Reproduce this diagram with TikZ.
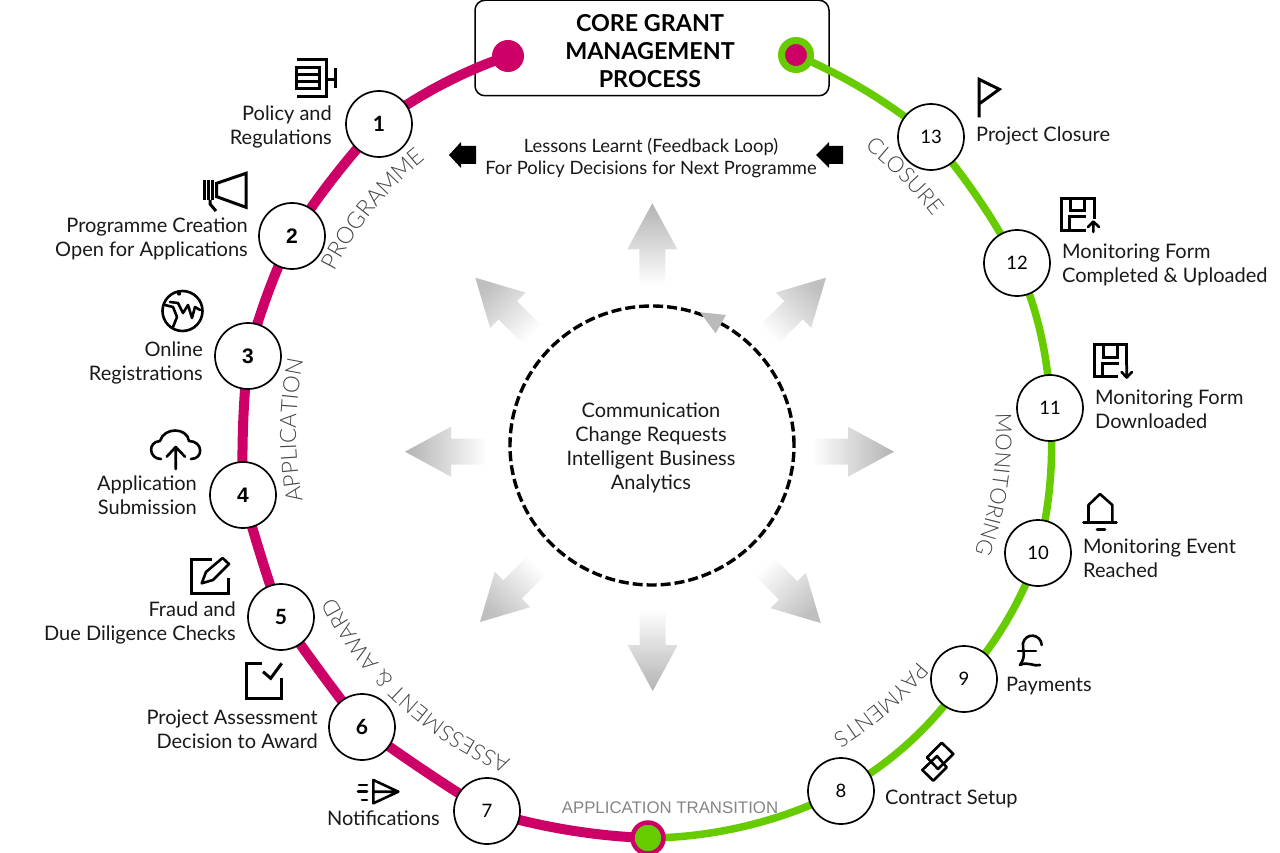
\documentclass[tikz,border=0pt]{standalone}
\usepackage{fontspec}
\setmainfont{Lato}
\newfontfamily\latolight{Lato Light}
\newfontfamily\arialike{Liberation Sans}
\usetikzlibrary{shapes.geometric,decorations.text,calc}
\definecolor{mag}{HTML}{CC0066}
\definecolor{grn}{HTML}{66CC00}
\definecolor{arclab}{HTML}{444444}
\pgfdeclarelayer{boxlayer}
\pgfdeclarelayer{linelayer}
\pgfsetlayers{boxlayer,linelayer,main}
\tikzset{
  x=1pt,y=1pt,
  numnode/.style={circle,draw=black,fill=white,line width=1.7pt,minimum size=66pt,inner sep=0pt},
  numa/.style={numnode,font=\fontsize{21}{21}\selectfont\bfseries},
  numb/.style={numnode,font=\fontsize{21}{21}\selectfont\arialike\bfseries},
  numc/.style={numnode,font=\fontsize{18.5}{18.5}\selectfont},
  lab/.style={font=\fontsize{20}{24}\selectfont,inner sep=0pt,text=black!90},
  labr/.style={lab,align=right,anchor=east},
  labl/.style={lab,align=left,anchor=west},
  magline/.style={mag,line width=10pt},
  grnline/.style={grn,line width=7.5pt},
  icon/.style={black,line width=3pt,line cap=butt,line join=miter},
  icont/.style={black,line width=2.6pt,line join=round,line cap=round},
}
\newcommand\arclabel[4]{\path[decorate,decoration={text along path,text align=center,
   text color=arclab,text={|\latolight\fontsize{#3}{#3}\selectfont|#4}}]
   (c) ++(#1+32:#2) arc[start angle=#1+32,end angle=#1-32,radius=#2];}
\newcommand\glowarrow[4]{\begin{scope}[shift={(#1,#2)},rotate=#3]
  \shade[bottom color=white,top color=black!#4,shading angle=#3-90]
   (0,0)--(-46,25)--(-46,13)--(-82,13)--(-82,-13)--(-46,-13)--(-46,-25)--cycle;
  \end{scope}}
\begin{document}
\begin{tikzpicture}
\useasboundingbox (0,0) rectangle (1280,-853);
\coordinate (c) at (648,-433);
% title box
\begin{pgfonlayer}{boxlayer}
\node[draw=black,line width=1.5pt,rounded corners=10pt,minimum width=354pt,minimum height=95.5pt,inner sep=0pt] (title) at (652,-48) {};
\end{pgfonlayer}
\node[align=center,font=\fontsize{23.3}{28}\selectfont\bfseries,inner sep=0pt] (titletext) at (650,-51) {CORE GRANT\\MANAGEMENT\\PROCESS};
% nodes on ring
\node[circle,fill=mag,minimum size=32pt,inner sep=0pt] (dotL) at (508,-56) {};
\node[circle,fill=mag,draw=grn,line width=7pt,minimum size=29pt,inner sep=0pt] (dotR) at (796,-55) {};
\node[circle,fill=grn,draw=mag,line width=4.5pt,minimum size=31pt,inner sep=0pt] (dotB) at (648,-838) {};
\node[numa] (n1) at (379,-124) {1};
\node[numb] (n2) at (292,-236) {2};
\node[numb] (n3) at (248,-356) {3};
\node[numb] (n4) at (243,-495) {4};
\node[numa] (n5) at (281,-617) {5};
\node[numa] (n6) at (362,-727) {6};
\node[numc] (n7) at (487,-811) {7};
\node[numc] (n8) at (841,-791) {8};
\node[numc] (n9) at (964,-679) {9};
\node[numc] (n10) at (1038,-553) {10};
\node[numc] (n11) at (1050,-408) {11};
\node[numc] (n12) at (1017,-263) {12};
\node[numc] (n13) at (931,-137) {13};
% ring segments
\begin{pgfonlayer}{linelayer}
\begin{scope}[looseness=.85]
\draw[magline] (dotL.center) to[bend right=9] (n1.center);
\draw[magline] (n1.center) to[bend right=4.9] (n2.center);
\draw[magline] (n2.center) to[bend right=5.4] (n3.center);
\draw[magline] (n3.center) to[bend right=4] (n4.center);
\draw[magline] (n4.center) to[bend right=2] (n5.center);
\draw[magline] (n5.center) to[bend right=1.5] (n6.center);
\draw[magline] (n6.center) to[bend right=2.3] (n7.center);
\draw[magline] (n7.center) to[bend right=7.5] (dotB.center);
\draw[grnline] (dotB.center) to[bend right=13.4] (n8.center);
\draw[grnline] (n8.center) to[bend right=14] (n9.center);
\draw[grnline] (n9.center) to[bend right=11.7] (n10.center);
\draw[grnline] (n10.center) to[bend right=9.8] (n11.center);
\draw[grnline] (n11.center) to[bend right=11.5] (n12.center);
\draw[grnline] (n12.center) to[bend right=6.5] (n13.center);
\draw[grnline] (n13.center) to[bend right=8.3] (dotR.center);
\end{scope}
\end{pgfonlayer}
% labels
\node[labr] (t1) at (332,-126.5) {Policy and\\Regulations};
\node[labr] (t2) at (248,-238.5) {Programme Creation\\Open for Applications};
\node[labr] (t3) at (203,-362.5) {Online\hspace{5pt}\\Registrations};
\node[labr] (t4) at (197,-495.5) {Application\\Submission};
\node[labr] (t5) at (236,-622.5) {Fraud and\\Due Diligence Checks};
\node[labr] (t6) at (318,-729.5) {Project Assessment\\Decision to Award};
\node[labr] (t7) at (440,-818.5) {Notifications};
\node[labl] (t8) at (885,-798.5) {Contract Setup};
\node[labl] (t9) at (1006,-686.5) {Payments};
\node[labl] (t10) at (1083,-558.5) {Monitoring Event\\Reached};
\node[labl] (t11) at (1095,-409.5) {Monitoring Form\\Downloaded};
\node[labl] (t12) at (1062,-264.5) {Monitoring Form\\Completed \& Uploaded};
\node[labl] (t13) at (976,-135.5) {Project Closure};
\node[lab,font=\fontsize{18.4}{22}\selectfont,align=center] (lessons) at (651,-158) {Lessons Learnt (Feedback Loop)\\For Policy Decisions for Next Programme};
\node[font=\fontsize{16.8}{20}\selectfont\arialike,text=black!48,inner sep=0pt] (trans) at (670,-808) {APPLICATION TRANSITION};
% hub
\node[ellipse,draw=black,line width=3.4pt,dash pattern=on 10pt off 4pt,minimum width=284pt,minimum height=279pt,inner sep=0pt] (hub) at (652,-445.5) {};
\node[align=center,font=\fontsize{20}{24}\selectfont,text=black!90,inner sep=0pt] (hubtext) at (651,-447.5) {Communication\\Change Requests\\Intelligent Business\\Analytics};
\fill[black!27] (700,-312.3)--(726,-315)--(715.7,-333.3)--cycle;
% gradient arrows
\glowarrow{652.3}{-203.3}{90}{30}
\glowarrow{652.7}{-691}{-90}{30}
\glowarrow{405}{-451.7}{180}{30}
\glowarrow{894}{-451.7}{0}{30}
\glowarrow{475.3}{-277.7}{135}{25}
\glowarrow{826}{-277.7}{45}{25}
\glowarrow{480}{-622}{225}{25}
\glowarrow{820.7}{-623}{-45}{25}
% small black arrows
\fill[black] (449,-155)--(461,-142)--(461,-146)--(476,-146)--(476,-164)--(461,-164)--(461,-168)--cycle;
\fill[black] (816,-155)--(829,-142)--(829,-146)--(843,-146)--(843,-164)--(829,-164)--(829,-168)--cycle;
% arc labels
\arclabel{140.85}{353}{23}{PROGRAMME}
\arclabel{179.6}{352}{22.5}{APPLICATION}
\arclabel{227.4}{354}{22}{ASSESSMENT {\&} AWARD}
\arclabel{-49.4}{354}{22}{PAYMENTS}
\arclabel{-8.5}{348}{22}{MONITORING}
\arclabel{45}{358}{22}{CLOSURE}
% icon 1
\draw[icon] (296.7,-59.5)--(326.7,-59.5)--(326.7,-97)--(296.7,-97);
\draw[icon] (296.7,-68)rectangle(319,-88.5);
\draw[icon] (296.7,-75)--(319,-75) (296.7,-81.5)--(319,-81.5);
\draw[icon] (326.7,-80)--(335,-80) (335,-68)--(335,-88.5);
% icon 2
\draw[icon] (216.7,-183.3)--(246,-173.3)--(246,-207.3)--(216.7,-196.7)--cycle;
\draw[icon] (204,-180)--(204,-200) (208,-180)--(208,-200) (212,-180)--(212,-200);
\draw[icon] (210,-200)--(210,-204)--(216,-211);
% icon 3
\draw[icont] (182.5,-311) circle (20);
\draw[icont] (165,-305)--(173,-307)--(177,-317)--(173,-327);
\draw[icont] (170,-302)--(178,-303)--(183,-313)--(188,-305)--(192,-318)--(195,-307)--(200,-310);
\fill[black] (179,-293.5) circle (2.2);
% icon 4
\draw[icont] (161,-459) .. controls (149,-459) and (147,-442) .. (160,-441) .. controls (164,-427) and (187,-427) .. (189,-441) .. controls (203,-441) and (204,-459) .. (191,-459);
\draw[icont] (175.7,-469)--(175.7,-447) (166.7,-456.7)--(175.7,-447)--(185,-456.7);
% icon 5
\draw[icon] (211.7,-559.3)--(191.7,-559.3)--(191.7,-593.3)--(228.3,-593.3)--(228.3,-578);
\draw[icont] (201.7,-583.3)--(206,-572)--(222.5,-558)--(229,-564)--(213,-580)--cycle;
% icon 6
\draw[icon] (261.7,-663.3)--(246,-663.3)--(246,-698.3)--(281.7,-698.3)--(281.7,-678);
\draw[icon] (263,-671.7)--(270.7,-678.3)--(281.7,-663.3);
% icon 7
\draw[icont] (373.3,-780)--(398.3,-791.7)--(373.3,-803.3)--cycle (373.3,-791.7)--(398.3,-791.7);
\draw[icont] (359,-785)--(367,-785) (358,-791.7)--(367,-791.7) (362,-800)--(367,-800);
% icon 8
\draw[icont] (941.7,-742.7)--(953.3,-754)--(938,-769)--(927,-757.5)--cycle;
\draw[icont] (922.3,-770)--(937,-756)--(946.7,-767.3)--(933.3,-780.7)--cycle;
% icon 9
\draw[icont] (1041.7,-645) .. controls (1041,-634) and (1026,-632) .. (1023,-643) .. controls (1022,-650) and (1027,-655) .. (1020,-665) .. controls (1028,-661) and (1034,-667) .. (1040,-665);
\draw[icont] (1018,-651)--(1036,-651);
% icon 10
\draw[icont] (1088.5,-522)--(1088.5,-505)--(1100,-494)--(1112.3,-505)--(1112.3,-522);
\draw[icont] (1083.5,-522.7)--(1116.5,-522.7) (1097,-529.5)--(1105,-529.5);
% icon 11
\draw[icon] (1126.7,-365)--(1126.7,-344)--(1094,-344)--(1094,-376.7)--(1118,-376.7);
\draw[icon] (1103,-344)--(1103,-357)--(1117,-357)--(1117,-344);
\draw[icon] (1102,-376.7)--(1102,-363)--(1119,-363);
\draw[icont] (1126.7,-365)--(1126.7,-377) (1121.5,-372)--(1126.7,-377.5)--(1132,-372);
% icon 12
\draw[icon] (1094,-219)--(1094,-198.3)--(1061,-198.3)--(1061,-230.7)--(1086,-230.7);
\draw[icon] (1070,-198.3)--(1070,-211)--(1084,-211)--(1084,-198.3);
\draw[icon] (1069,-230.7)--(1069,-217)--(1086,-217);
\draw[icont] (1093.3,-232)--(1093.3,-222) (1088,-227)--(1093.3,-221.5)--(1099,-227);
% icon 13
\draw[icon] (979,-117.3)--(979,-79.3)--(999.3,-89.3)--(979,-104);
\end{tikzpicture}
\end{document}
